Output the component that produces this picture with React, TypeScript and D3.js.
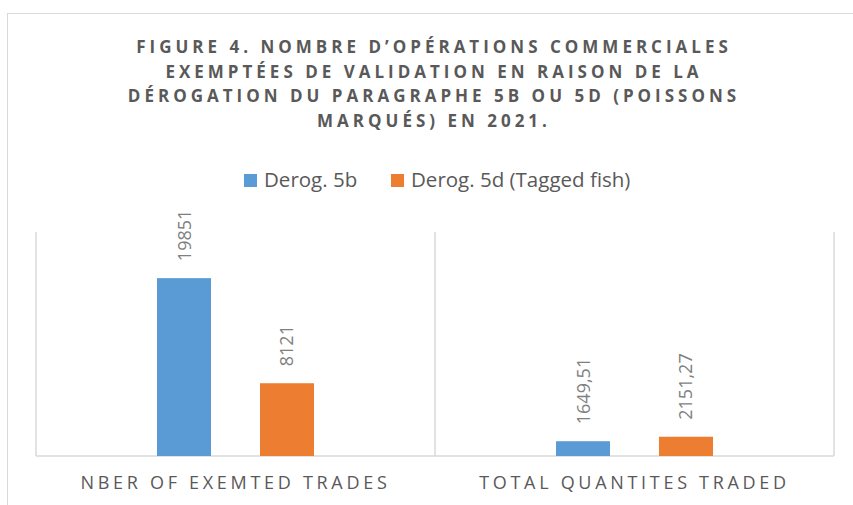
import React from "react";
import * as d3 from "d3";

const categories = ["NBER OF EXEMTED TRADES", "TOTAL QUANTITES TRADED"];
const seriesNames = ["Derog. 5b", "Derog. 5d (Tagged fish)"];
const derog5b = [19851, 1649.51];
const derog5d = [8121, 2151.27];
const labels5b = ["19851", "1649,51"];
const labels5d = ["8121", "2151,27"];
const titleLines = [
  "FIGURE 4. NOMBRE D’OPÉRATIONS COMMERCIALES",
  "EXEMPTÉES DE VALIDATION EN RAISON DE LA",
  "DÉROGATION DU PARAGRAPHE 5B OU 5D (POISSONS",
  "MARQUÉS) EN 2021.",
];
const colors = ["#5B9BD5", "#ED7D31"];

export default function App() {
  const W = 853, H = 505;
  const left = 36, right = 834, top = 232, bottom = 456;
  const x0 = d3.scaleBand<string>().domain(categories).range([left, right]).padding(0);
  const x1 = d3
    .scaleBand<string>()
    .domain(seriesNames)
    .range([0, x0.bandwidth()])
    .paddingInner(0.4757)
    .paddingOuter(1.175);
  const y = d3.scaleLinear().domain([0, 25000]).range([bottom, top]);
  const series = [
    { name: seriesNames[0], values: derog5b, labels: labels5b },
    { name: seriesNames[1], values: derog5d, labels: labels5d },
  ];
  const font = "'Open Sans', sans-serif";
  const gridColor = "#d9d9d9";
  const legendItems = [
    { x: 244, name: seriesNames[0], color: colors[0] },
    { x: 391, name: seriesNames[1], color: colors[1] },
  ];
  return (
    <svg width={W} height={H} style={{ position: "absolute", left: 0, top: 0 }}>
      <rect x={0} y={0} width={W} height={H} fill="#fff" />
      <rect x={7.5} y={13.5} width={W + 10} height={H + 10} fill="none" stroke={gridColor} strokeWidth={1} />
      {titleLines.map((t, i) => (
        <text
          key={i}
          x={434}
          y={53 + i * 24.6}
          textAnchor="middle"
          fontFamily={font}
          fontWeight={700}
          fontSize={17}
          letterSpacing={4}
          fill="#595959"
        >
          {t}
        </text>
      ))}
      {legendItems.map((l, i) => (
        <g key={i}>
          <rect x={l.x} y={174} width={13} height={13} fill={l.color} />
          <text x={l.x + 20} y={187} fontFamily={font} fontSize={20.5} fill="#595959">
            {l.name}
          </text>
        </g>
      ))}
      {[left, x0(categories[1])!, right].map((xv, i) => (
        <line key={i} x1={xv} x2={xv} y1={top} y2={bottom} stroke={gridColor} strokeWidth={1.5} />
      ))}
      <line x1={left} x2={right} y1={bottom} y2={bottom} stroke={gridColor} strokeWidth={1.5} />
      {categories.map((c, ci) => (
        <g key={c}>
          {series.map((s, si) => {
            const bx = x0(c)! + x1(s.name)!;
            const by = y(s.values[ci]);
            const cx = bx + x1.bandwidth() / 2;
            return (
              <g key={s.name}>
                <rect x={bx} y={by} width={x1.bandwidth()} height={bottom - by} fill={colors[si]} />
                <text
                  transform={`translate(${cx + 6.5},${by - 17}) rotate(-90)`}
                  fontFamily={font}
                  fontSize={18}
                  fill="#7f7f7f"
                >
                  {s.labels[ci]}
                </text>
              </g>
            );
          })}
          <text
            x={x0(c)! + x0.bandwidth() / 2}
            y={489}
            textAnchor="middle"
            fontFamily={font}
            fontSize={18}
            letterSpacing={3.7}
            fill="#595959"
          >
            {c}
          </text>
        </g>
      ))}
    </svg>
  );
}
